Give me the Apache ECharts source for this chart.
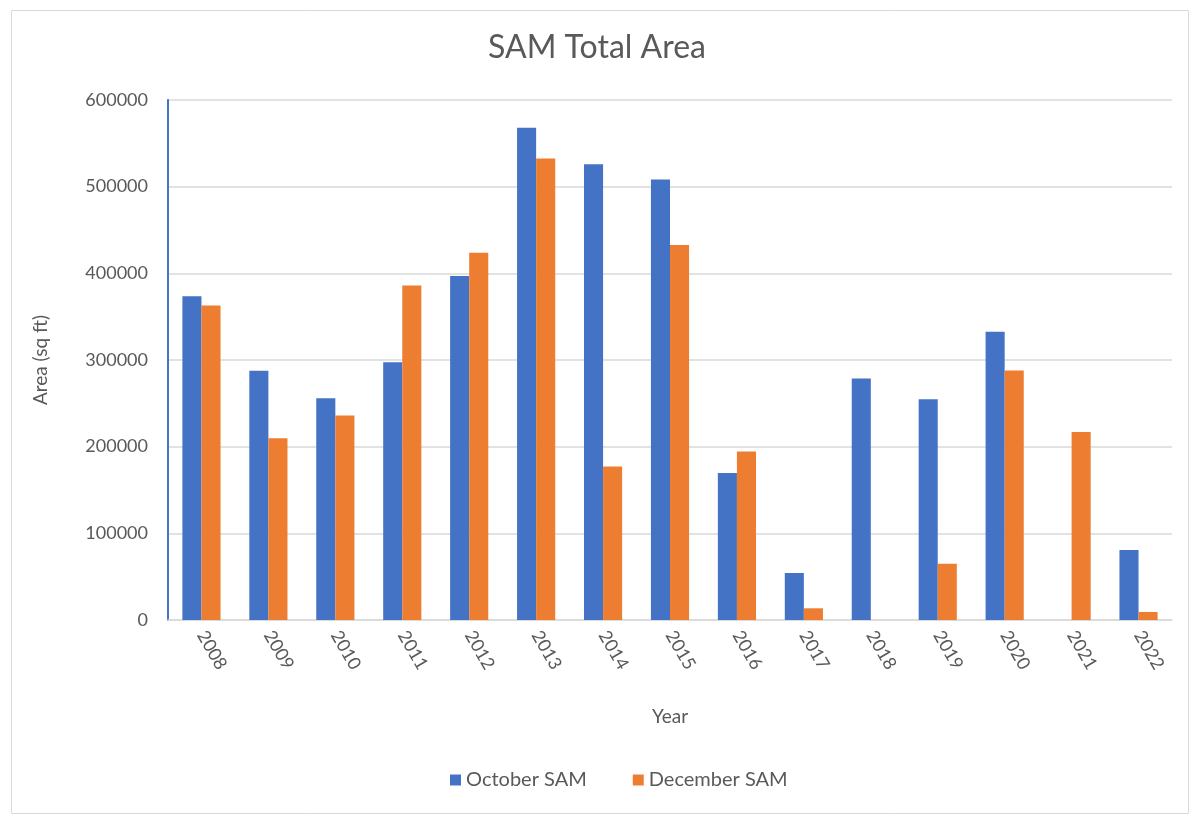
<!DOCTYPE html>
<html>
<head>
<meta charset="utf-8">
<script src="https://cdn.jsdelivr.net/npm/echarts@6/dist/echarts.min.js"></script>
<style>
html,body{margin:0;padding:0;background:#fff;}
#chart{width:1194px;height:817px;}
</style>
</head>
<body>
<div id="chart"></div>
<script>
const years = ['2008','2009','2010','2011','2012','2013','2014','2015','2016','2017','2018','2019','2020','2021','2022'];
const octoberSAM = [373600, 287500, 256000, 297500, 397000, 568000, 525800, 508300, 169500, 54200, 278700, 254700, 332500, 0, 80900];
const decemberSAM = [362800, 209700, 236000, 385900, 423800, 532600, 177000, 432600, 194300, 13500, 0, 65000, 288000, 216800, 9300];
const yTicks = [0, 100000, 200000, 300000, 400000, 500000, 600000];

const FONT = 'Lato, "Open Sans", sans-serif';
const chart = echarts.init(document.getElementById('chart'));
chart.setOption({
  backgroundColor: '#ffffff',
  animation: false,
  textStyle: { fontFamily: FONT },
  graphic: [{
    type: 'rect', left: 9, top: 8,
    shape: { width: 1177, height: 803 },
    style: { fill: 'none', stroke: '#d9d9d9', lineWidth: 1 },
    silent: true
  }],
  title: {
    text: 'SAM Total Area',
    left: 'center', top: 27,
    textStyle: { fontFamily: FONT, fontSize: 32, fontWeight: 'normal', color: '#595959' }
  },
  legend: {
    bottom: 22, left: 445,
    itemWidth: 11, itemHeight: 11, itemGap: 46,
    icon: 'rect',
    textStyle: { fontFamily: FONT, fontSize: 20, color: '#595959' },
    data: ['October SAM', 'December SAM']
  },
  grid: { left: 168, right: 22, top: 100, bottom: 197, containLabel: false },
  xAxis: {
    type: 'category',
    data: years,
    name: 'Year',
    nameLocation: 'middle',
    nameGap: 87,
    nameTextStyle: { fontFamily: FONT, fontSize: 19, color: '#595959' },
    axisLine: { lineStyle: { color: '#d9d9d9', width: 1.5 } },
    axisTick: { alignWithLabel: true, length: 6, lineStyle: { color: '#d9d9d9' } },
    axisLabel: { rotate: -60, fontFamily: FONT, fontSize: 18, color: '#595959', margin: 12 }
  },
  yAxis: {
    type: 'value',
    min: yTicks[0], max: yTicks[yTicks.length - 1], interval: 100000,
    name: 'Area (sq ft)',
    nameLocation: 'middle',
    nameGap: 118,
    nameRotate: 90,
    nameTextStyle: { fontFamily: FONT, fontSize: 19, color: '#595959' },
    axisLine: { show: true, lineStyle: { color: '#4472C4', width: 2 } },
    axisTick: { show: false },
    axisLabel: { fontFamily: FONT, fontSize: 18, color: '#595959', margin: 20, formatter: v => String(v) },
    splitLine: { lineStyle: { color: '#d9d9d9', width: 1.5 } }
  },
  series: [
    {
      name: 'October SAM', type: 'bar', data: octoberSAM,
      barGap: '0%', barCategoryGap: '43%',
      itemStyle: { color: '#4472C4' }
    },
    {
      name: 'December SAM', type: 'bar', data: decemberSAM,
      barGap: '0%', barCategoryGap: '43%',
      itemStyle: { color: '#ED7D31' }
    }
  ]
});
</script>
</body>
</html>
